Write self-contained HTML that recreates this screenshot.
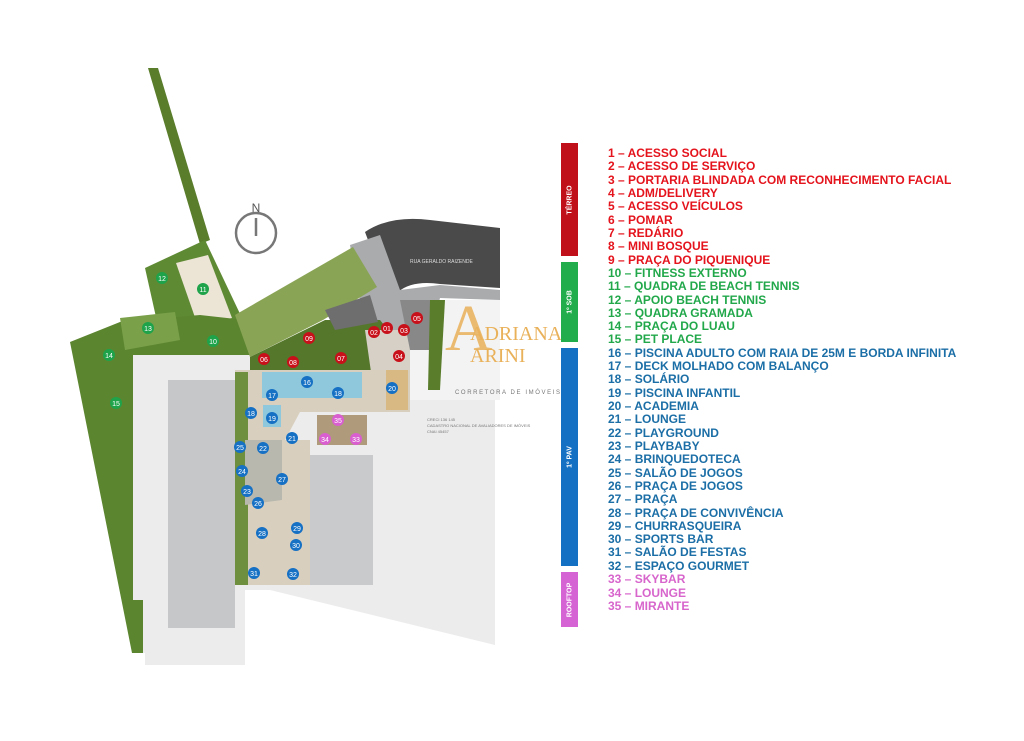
<!DOCTYPE html>
<html><head><meta charset="utf-8"><style>
body{margin:0;background:#fff;width:1024px;height:741px;overflow:hidden;position:relative;font-family:"Liberation Sans",sans-serif}
.leg{position:absolute;left:608px;font-weight:bold;font-size:12px;line-height:13.32px;white-space:nowrap}
.bar{position:absolute;left:561px;width:17px}
.bar span{position:absolute;left:50%;top:50%;transform:translate(-50%,-50%) rotate(-90deg);color:#fff;font-size:7px;font-weight:bold;white-space:nowrap}
</style></head><body>
<svg width="1024" height="741" style="position:absolute;left:0;top:0" font-family="Liberation Sans, sans-serif">
<!-- light ground -->
<polygon points="133,355 250,355 250,370 410,370 410,400 495,400 495,645 270,590 245,590 245,665 145,665 145,653 133,653" fill="#ececec"/>
<polygon points="410,300 500,300 500,400 410,400" fill="#f3f3f3"/>
<!-- road -->
<path d="M365,232 Q390,215 430,220 L500,228 L500,288 L440,284 Q412,280 398,292 L380,272 Z" fill="#4a4a4a"/>
<polygon points="350,245 380,235 400,290 440,285 500,290 500,300 440,298 430,335 375,340 360,300" fill="#a9abad"/>
<text x="410" y="263" font-size="5" fill="#ddd">RUA GERALDO RAIZENDE</text>
<!-- green strip top -->
<polygon points="148,68 158,68 210,240 200,244" fill="#5a7d2c"/>
<!-- beach tennis area -->
<polygon points="145,268 205,240 242,318 205,335 160,335" fill="#5f8a34"/>
<polygon points="176,263 208,255 232,318 198,326" fill="#ece5d6"/>
<!-- left green -->
<polygon points="70,342 120,322 200,315 245,320 250,355 133,355 133,600 143,600 143,653 132,653" fill="#5c8530"/>
<polygon points="120,318 175,312 180,340 125,350" fill="#7aa04a"/>
<!-- lawn -->
<polygon points="235,315 353,247 377,287 323,320 250,357" fill="#8aa456"/>
<!-- garden strip -->
<polygon points="250,357 325,320 380,320 400,345 395,372 250,372" fill="#55772c"/>
<polygon points="325,310 370,295 378,322 335,330" fill="#6e6e6e"/>
<polygon points="365,330 410,330 410,400 375,400" fill="#d6d0c6"/>
<polygon points="400,300 440,300 440,350 410,350" fill="#888"/>
<polygon points="430,300 445,300 440,390 428,390" fill="#5a7d2c"/>
<!-- buildings -->
<rect x="168" y="380" width="67" height="248" fill="#c6c7c9"/>
<rect x="310" y="455" width="63" height="130" fill="#c9cacc"/>
<!-- amenities -->
<polygon points="235,370 410,370 410,412 300,412 285,440 310,440 310,585 235,585" fill="#d9cfbf"/>
<polygon points="235,372 248,372 248,585 235,585" fill="#6d8f3e"/>
<rect x="262" y="372" width="100" height="26" fill="#8fc8dc"/>
<rect x="263" y="405" width="18" height="22" fill="#8fc8dc"/>
<polygon points="245,440 282,440 282,500 245,505" fill="#b8b8ae"/>
<rect x="317" y="415" width="50" height="30" fill="#b09a7c"/>
<rect x="386" y="370" width="22" height="40" fill="#d8b983"/>
<!-- compass -->
<circle cx="256" cy="233" r="20" fill="none" stroke="#777" stroke-width="2.5"/>
<line x1="256" y1="218" x2="256" y2="236" stroke="#777" stroke-width="2.5"/>
<text x="256" y="212" font-size="12" text-anchor="middle" fill="#555">N</text>
<!-- logo -->
<text x="445" y="350" font-family="Liberation Serif, serif" font-size="66" fill="#e9b15a" opacity="0.85">A</text>
<text x="470" y="340" font-family="Liberation Serif, serif" font-size="20" fill="#e9b15a">ADRIANA</text>
<text x="470" y="362" font-family="Liberation Serif, serif" font-size="20" fill="#e9b15a">ARINI</text>
<text x="455" y="394" font-size="6" letter-spacing="1.6" fill="#777">CORRETORA DE IMÓVEIS</text>
<text x="427" y="421" font-size="4" fill="#777">CRECI 136 145</text>
<text x="427" y="427" font-size="4" fill="#777">CADASTRO NACIONAL DE AVALIADORES DE IMÓVEIS</text>
<text x="427" y="433" font-size="4" fill="#777">CNAI 45457</text>
<!-- markers -->
<g font-size="7" text-anchor="middle" fill="#fff">
<g fill="#1ea34a"><circle cx="203" cy="289" r="6"/><circle cx="162" cy="278" r="6"/><circle cx="148" cy="328" r="6"/><circle cx="213" cy="341" r="6"/><circle cx="109" cy="355" r="6"/><circle cx="116" cy="403" r="6"/></g>
<text x="203" y="292">11</text><text x="162" y="281">12</text><text x="148" y="331">13</text><text x="213" y="344">10</text><text x="109" y="358">14</text><text x="116" y="406">15</text>
<g fill="#c8101a"><circle cx="387" cy="328" r="6"/><circle cx="374" cy="332" r="6"/><circle cx="404" cy="330" r="6"/><circle cx="417" cy="318" r="6"/><circle cx="399" cy="356" r="6"/><circle cx="309" cy="338" r="6"/><circle cx="264" cy="359" r="6"/><circle cx="293" cy="362" r="6"/><circle cx="341" cy="358" r="6"/></g>
<text x="387" y="331">01</text><text x="374" y="335">02</text><text x="404" y="333">03</text><text x="417" y="321">05</text><text x="399" y="359">04</text><text x="309" y="341">09</text><text x="264" y="362">06</text><text x="293" y="365">08</text><text x="341" y="361">07</text>
<g fill="#1670c4"><circle cx="307" cy="382" r="6"/><circle cx="272" cy="395" r="6"/><circle cx="338" cy="393" r="6"/><circle cx="251" cy="413" r="6"/><circle cx="272" cy="418" r="6"/><circle cx="392" cy="388" r="6"/><circle cx="292" cy="438" r="6"/><circle cx="240" cy="447" r="6"/><circle cx="263" cy="448" r="6"/><circle cx="242" cy="471" r="6"/><circle cx="282" cy="479" r="6"/><circle cx="247" cy="491" r="6"/><circle cx="258" cy="503" r="6"/><circle cx="262" cy="533" r="6"/><circle cx="297" cy="528" r="6"/><circle cx="296" cy="545" r="6"/><circle cx="254" cy="573" r="6"/><circle cx="293" cy="574" r="6"/></g>
<text x="307" y="385">16</text><text x="272" y="398">17</text><text x="338" y="396">18</text><text x="251" y="416">18</text><text x="272" y="421">19</text><text x="392" y="391">20</text><text x="292" y="441">21</text><text x="240" y="450">25</text><text x="263" y="451">22</text><text x="242" y="474">24</text><text x="282" y="482">27</text><text x="247" y="494">23</text><text x="258" y="506">26</text><text x="262" y="536">28</text><text x="297" y="531">29</text><text x="296" y="548">30</text><text x="254" y="576">31</text><text x="293" y="577">32</text>
<g fill="#d95fd0"><circle cx="338" cy="420" r="6"/><circle cx="325" cy="439" r="6"/><circle cx="356" cy="439" r="6"/></g>
<text x="338" y="423">35</text><text x="325" y="442">34</text><text x="356" y="442">33</text>
</g>
</svg>
<div class="bar" style="top:143px;height:113px;background:#c0111b"><span>TÉRREO</span></div>
<div class="bar" style="top:262px;height:80px;background:#21ad4b"><span>1º SOB</span></div>
<div class="bar" style="top:348px;height:218px;background:#1470c2"><span>1º PAV</span></div>
<div class="bar" style="top:572px;height:55px;background:#d563d4"><span>ROOFTOP</span></div>
<div class="leg" style="top:147px;color:#e4131c">1 – ACESSO SOCIAL<br>2 – ACESSO DE SERVIÇO<br>3 – PORTARIA BLINDADA COM RECONHECIMENTO FACIAL<br>4 – ADM/DELIVERY<br>5 – ACESSO VEÍCULOS<br>6 – POMAR<br>7 – REDÁRIO<br>8 – MINI BOSQUE<br>9 – PRAÇA DO PIQUENIQUE</div>
<div class="leg" style="top:266.9px;color:#22a84b">10 – FITNESS EXTERNO<br>11 – QUADRA DE BEACH TENNIS<br>12 – APOIO BEACH TENNIS<br>13 – QUADRA GRAMADA<br>14 – PRAÇA DO LUAU<br>15 – PET PLACE</div>
<div class="leg" style="top:346.8px;color:#1b6ea6">16 – PISCINA ADULTO COM RAIA DE 25M E BORDA INFINITA<br>17 – DECK MOLHADO COM BALANÇO<br>18 – SOLÁRIO<br>19 – PISCINA INFANTIL<br>20 – ACADEMIA<br>21 – LOUNGE<br>22 – PLAYGROUND<br>23 – PLAYBABY<br>24 – BRINQUEDOTECA<br>25 – SALÃO DE JOGOS<br>26 – PRAÇA DE JOGOS<br>27 – PRAÇA<br>28 – PRAÇA DE CONVIVÊNCIA<br>29 – CHURRASQUEIRA<br>30 – SPORTS BAR<br>31 – SALÃO DE FESTAS<br>32 – ESPAÇO GOURMET</div>
<div class="leg" style="top:573.2px;color:#d765cc">33 – SKYBAR<br>34 – LOUNGE<br>35 – MIRANTE</div>
</body></html>
